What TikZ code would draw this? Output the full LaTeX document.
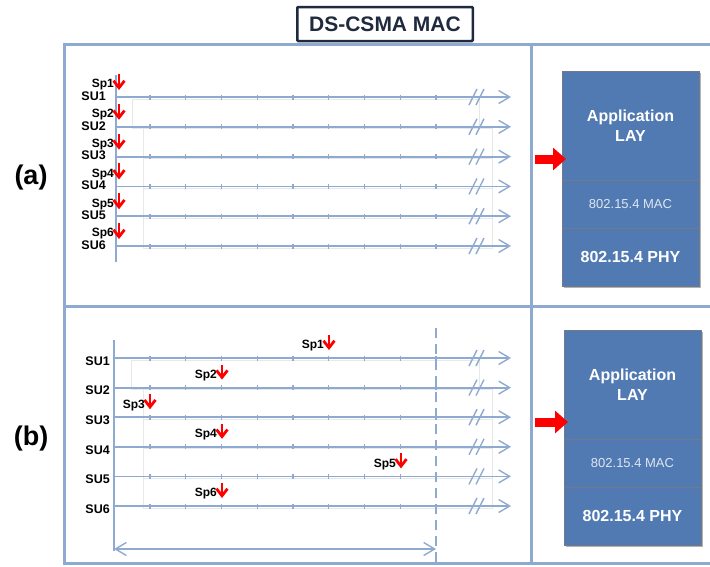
\documentclass[tikz,border=0pt]{standalone}
\usepackage{fontspec}
\setmainfont{Liberation Sans}
\usetikzlibrary{arrows.meta,positioning,shadows}
\definecolor{frameblue}{RGB}{143,170,208}
\definecolor{stackblue}{RGB}{81,122,178}
\definecolor{stackedge}{RGB}{112,122,138}
\definecolor{titlenavy}{RGB}{32,42,62}
\definecolor{maclight}{RGB}{222,230,242}

\tikzset{
  frameline/.style={draw=frameblue, line width=3pt},
  axisline/.style={draw=frameblue, line width=1.8pt},
  timeline/.style={draw=frameblue, line width=1.8pt,
    -{Straight Barb[length=11pt,width=13pt,line width=1.4pt]}},
  spanarrow/.style={draw=frameblue, line width=1.6pt,
    {Straight Barb[length=11pt,width=13pt,line width=1.4pt]}-{Straight Barb[length=11pt,width=13pt,line width=1.4pt]}},
  cutline/.style={draw=frameblue, line width=1.8pt, dash pattern=on 10pt off 6pt},
  tick/.style={draw=frameblue, line width=1.1pt},
  breakmark/.style={draw=frameblue, line width=1.4pt},
  ghostbox/.style={draw=gray!18, line width=0.6pt},
  sulabel/.style={font=\fontsize{12.5}{14}\selectfont\bfseries, inner sep=0pt, anchor=east},
  splabel/.style={font=\fontsize{12}{13}\selectfont\bfseries, inner sep=0pt, anchor=east},
  sparrow/.style={red, line width=2.8pt, -{Straight Barb[length=7pt,width=11pt,line width=2.8pt]}},
  redarrow/.style={red, line width=9pt, -{Triangle[length=13pt,width=22pt]}, shorten >=-4pt},
  panellabel/.style={font=\fontsize{27}{30}\selectfont\bfseries, inner sep=0pt},
  titlebox/.style={draw=titlenavy, line width=2.5pt, fill=white, text=titlenavy,
    font=\fontsize{21}{24}\selectfont\bfseries, minimum width=175.5, minimum height=34, rounded corners=1pt},
  stackbox/.style={draw=stackedge, line width=1pt, fill=stackblue, text=white, minimum width=137,
    inner sep=0pt, outer sep=0pt, align=center,
    drop shadow={shadow xshift=1.5pt, shadow yshift=-2pt, fill=black, opacity=0.3}},
  appbox/.style={stackbox, minimum height=109, font=\fontsize{16}{20}\selectfont\bfseries},
  macbox/.style={stackbox, minimum height=48, text=maclight, font=\fontsize{13}{15}\selectfont},
  phybox/.style={stackbox, minimum height=58, font=\fontsize{16}{18}\selectfont\bfseries}
}

\begin{document}
\begin{tikzpicture}[x=1pt,y=-1pt]
  \useasboundingbox (0,0) rectangle (710,566);

  % Frame
  \draw[frameline] (710,44) -- (64,44) -- (64,563) -- (710,563);
  \draw[frameline] (64,306) -- (710,306);
  \draw[frameline] (531,44) -- (531,563);

  % Title
  \node[titlebox] (title) at (385,24) {DS-CSMA MAC};

  % Panel labels
  \node[panellabel] (labA) at (31,178) {(a)};
  \node[panellabel] (labB) at (31,439) {(b)};

  % (a) all users sense at the same start
  \foreach \i/\xl/\xr in {1/132/479,2/143/492,3/143/492,4/143/492,5/143/492} {
    \pgfmathsetmacro{\ly}{97+29.8*(\i-1)}
    \draw[ghostbox] (\xl,\ly+1.8) rectangle (\xr,\ly+31.6);
  }
  \coordinate (axAtop) at (116,75);
  \coordinate (axAbot) at (116,262);
  \draw[axisline] (axAtop) -- (axAbot);
  \foreach \i in {1,...,6} {
    \pgfmathsetmacro{\ly}{97+29.8*(\i-1)}
    \coordinate (wA\i) at (116,\ly);
    \coordinate (eA\i) at (511,\ly);
    \draw[timeline] (wA\i) -- (eA\i);
    \foreach \k in {0,...,8} \draw[tick] (150+35.75*\k,\ly-2.5) -- ++(0,5);
    \draw[breakmark] (469,\ly+8) -- ++(8,-16) (476,\ly+8) -- ++(8,-16);
    \node[sulabel] (suA\i) at (106,\ly-1) {SU\i};
    \node[splabel] (spA\i) at (114,\ly-12) {Sp\i};
    \coordinate (topA\i) at (119,\ly-23);
    \coordinate (tipA\i) at (119,\ly-7);
    \draw[sparrow] (topA\i) -- (tipA\i);
  }

  % (b) users spread over the window
  \foreach \i/\xl/\xr in {1/131/479,2/143/492,3/143/492,4/143/492,5/143/492} {
    \pgfmathsetmacro{\ly}{358+29.6*(\i-1)}
    \draw[ghostbox] (\xl,\ly+1.8) rectangle (\xr,\ly+31.4);
  }
  \coordinate (axBtop) at (114,340);
  \coordinate (axBbot) at (114,551);
  \draw[axisline] (axBtop) -- (axBbot);
  \foreach \i/\sx in {1/329,2/222,3/150,4/222,5/401,6/222} {
    \pgfmathsetmacro{\ly}{358+29.6*(\i-1)}
    \coordinate (wB\i) at (114,\ly);
    \coordinate (eB\i) at (511,\ly);
    \draw[timeline] (wB\i) -- (eB\i);
    \foreach \k in {0,...,8} \draw[tick] (150+35.75*\k,\ly-2.5) -- ++(0,5);
    \draw[breakmark] (469,\ly+8) -- ++(8,-16) (476,\ly+8) -- ++(8,-16);
    \node[sulabel] (suB\i) at (110,\ly+3) {SU\i};
    \node[splabel] (spB\i) at (\sx-5,\ly-12) {Sp\i};
    \coordinate (topB\i) at (\sx,\ly-23);
    \coordinate (tipB\i) at (\sx,\ly-8);
    \draw[sparrow] (topB\i) -- (tipB\i);
  }
  \coordinate (cutT) at (436,328);
  \coordinate (cutB) at (436,562);
  \draw[cutline] (cutT) -- (cutB);
  \coordinate (spanL) at (114,549);
  \coordinate (spanR) at (436,549);
  \draw[spanarrow] (spanL) -- (spanR);

  % Protocol stack (a)
  \node[appbox, anchor=north west] (appA) at (562,71) {Application\\LAY};
  \node[macbox, below=0pt of appA] (macA) {802.15.4 MAC};
  \node[phybox, below=0pt of macA] (phyA) {802.15.4 PHY};
  \coordinate (redA) at (535,159);
  \draw[redarrow] (redA) -- (redA -| appA.west);

  % Protocol stack (b)
  \node[appbox, anchor=north west] (appB) at (564,330) {Application\\LAY};
  \node[macbox, below=0pt of appB] (macB) {802.15.4 MAC};
  \node[phybox, below=0pt of macB] (phyB) {802.15.4 PHY};
  \coordinate (redB) at (535,422);
  \draw[redarrow] (redB) -- (redB -| appB.west);
\end{tikzpicture}
\end{document}
